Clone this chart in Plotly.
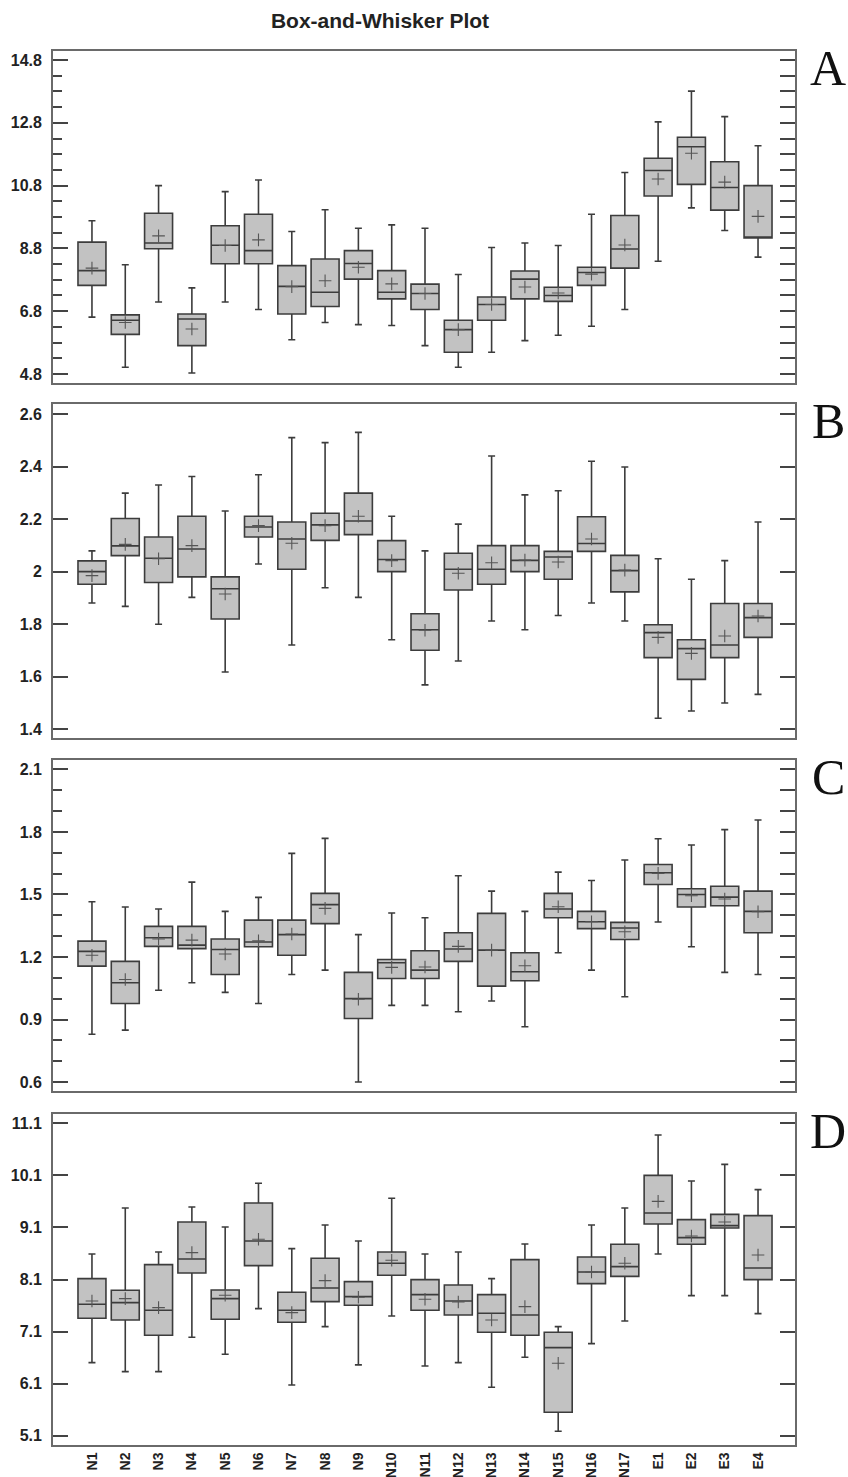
import plotly.graph_objects as go

categories = [f"N{i}" for i in range(1, 18)] + ["E1", "E2", "E3", "E4"]

# Panel A
a_upper = [9.68, 8.28, 10.80, 7.54, 10.61, 10.98, 9.34, 10.03, 9.44, 9.55, 9.44, 7.97, 8.83, 8.97, 8.89, 9.89, 11.22, 12.83, 13.81, 13.00, 12.07]
a_q3 = [9.00, 6.68, 9.92, 6.71, 9.52, 9.89, 8.25, 8.46, 8.73, 8.09, 7.66, 6.51, 7.25, 8.08, 7.56, 8.20, 9.85, 11.67, 12.34, 11.56, 10.80]
a_median = [8.09, 6.51, 8.97, 6.55, 8.90, 8.73, 7.59, 7.40, 8.32, 7.40, 7.36, 6.21, 7.01, 7.82, 7.30, 8.03, 8.78, 11.28, 12.04, 10.74, 9.16]
a_q1 = [7.62, 6.06, 8.79, 5.70, 8.31, 8.31, 6.71, 6.95, 7.82, 7.19, 6.85, 5.49, 6.51, 7.19, 7.11, 7.62, 8.17, 10.47, 10.84, 10.02, 9.13]
a_lower = [6.61, 5.01, 7.09, 4.83, 7.09, 6.85, 5.89, 6.44, 6.37, 6.34, 5.70, 5.01, 5.49, 5.86, 6.03, 6.32, 6.85, 8.39, 10.09, 9.37, 8.52]
a_mean = [8.17, 6.44, 9.20, 6.23, 8.89, 9.07, 7.58, 7.77, 8.20, 7.67, 7.36, 6.21, 7.01, 7.57, 7.38, 7.98, 8.91, 11.01, 11.83, 10.91, 9.82]

# Panel B
b_upper = [2.079, 2.299, 2.330, 2.362, 2.231, 2.369, 2.510, 2.491, 2.530, 2.211, 2.079, 2.181, 2.440, 2.292, 2.308, 2.420, 2.398, 2.049, 1.971, 2.042, 2.189]
b_q3 = [2.041, 2.202, 2.132, 2.211, 1.980, 2.211, 2.189, 2.222, 2.299, 2.118, 1.840, 2.070, 2.099, 2.099, 2.077, 2.209, 2.062, 1.798, 1.741, 1.879, 1.879]
b_median = [2.000, 2.098, 2.051, 2.086, 1.935, 2.170, 2.124, 2.178, 2.193, 2.046, 1.779, 2.009, 2.009, 2.043, 2.056, 2.107, 2.004, 1.768, 1.707, 1.721, 1.825]
b_q1 = [1.952, 2.061, 1.959, 1.980, 1.820, 2.132, 2.009, 2.119, 2.141, 2.000, 1.701, 1.930, 1.952, 2.000, 1.971, 2.077, 1.923, 1.673, 1.590, 1.673, 1.750]
b_lower = [1.881, 1.868, 1.800, 1.902, 1.618, 2.029, 1.721, 1.939, 1.902, 1.741, 1.569, 1.660, 1.812, 1.779, 1.833, 1.881, 1.812, 1.442, 1.470, 1.500, 1.533]
b_mean = [1.985, 2.104, 2.049, 2.099, 1.915, 2.175, 2.108, 2.175, 2.211, 2.042, 1.777, 1.994, 2.034, 2.044, 2.037, 2.124, 2.006, 1.750, 1.689, 1.755, 1.831]

# Panel C
c_upper = [1.465, 1.440, 1.430, 1.559, 1.419, 1.486, 1.697, 1.769, 1.307, 1.411, 1.388, 1.590, 1.516, 1.419, 1.607, 1.567, 1.665, 1.767, 1.737, 1.811, 1.857]
c_q3 = [1.276, 1.179, 1.347, 1.347, 1.286, 1.377, 1.377, 1.505, 1.126, 1.188, 1.230, 1.316, 1.409, 1.220, 1.505, 1.419, 1.366, 1.644, 1.527, 1.539, 1.516]
c_median = [1.227, 1.076, 1.292, 1.257, 1.236, 1.272, 1.307, 1.451, 1.000, 1.172, 1.137, 1.238, 1.233, 1.129, 1.430, 1.369, 1.339, 1.604, 1.500, 1.487, 1.419]
c_q1 = [1.156, 0.977, 1.251, 1.240, 1.116, 1.249, 1.208, 1.360, 0.905, 1.097, 1.097, 1.179, 1.060, 1.086, 1.388, 1.336, 1.284, 1.548, 1.440, 1.446, 1.316]
c_lower = [0.829, 0.849, 1.040, 1.076, 1.030, 0.977, 1.116, 1.137, 0.600, 0.968, 0.968, 0.937, 0.989, 0.865, 1.220, 1.137, 1.009, 1.368, 1.249, 1.126, 1.116]
c_mean = [1.208, 1.092, 1.286, 1.281, 1.214, 1.278, 1.310, 1.433, 0.997, 1.150, 1.152, 1.251, 1.233, 1.158, 1.441, 1.369, 1.321, 1.601, 1.494, 1.478, 1.417]

# Panel D
d_upper = [8.590, 9.474, 8.629, 9.493, 9.109, 9.948, 8.693, 9.147, 8.840, 9.660, 8.590, 8.629, 8.117, 8.782, 7.195, 9.147, 9.474, 10.876, 9.992, 10.313, 9.826]
d_q3 = [8.117, 7.893, 8.386, 9.205, 7.899, 9.570, 7.854, 8.507, 8.059, 8.629, 8.097, 7.995, 7.809, 8.482, 7.086, 8.533, 8.776, 10.100, 9.250, 9.352, 9.327]
d_median = [7.624, 7.656, 7.508, 8.494, 7.733, 8.840, 7.508, 7.937, 7.771, 8.411, 7.809, 7.688, 7.451, 7.419, 6.791, 8.245, 8.347, 9.378, 8.904, 9.135, 8.322]
d_q1 = [7.355, 7.323, 7.028, 8.225, 7.336, 8.366, 7.278, 7.675, 7.604, 8.181, 7.508, 7.419, 7.086, 7.028, 5.549, 8.021, 8.161, 9.167, 8.776, 9.090, 8.097]
d_lower = [6.503, 6.330, 6.330, 6.990, 6.663, 7.540, 6.074, 7.195, 6.459, 7.400, 6.439, 6.503, 6.030, 6.606, 5.184, 6.868, 7.304, 8.590, 7.790, 7.790, 7.444]
d_mean = [7.688, 7.733, 7.560, 8.616, 7.797, 8.872, 7.464, 8.078, 7.758, 8.469, 7.720, 7.669, 7.323, 7.579, 6.491, 8.245, 8.411, 9.602, 8.936, 9.205, 8.571]

panel_labels = ["A", "B", "C", "D"]
title_text = "Box-and-Whisker Plot"

panels = [
    dict(upper=a_upper, q3=a_q3, median=a_median, q1=a_q1, lower=a_lower, mean=a_mean,
         yrange=[4.51, 15.09], tick0=4.8, dtick=2.0, minor=0.5, fmt=".1f"),
    dict(upper=b_upper, q3=b_q3, median=b_median, q1=b_q1, lower=b_lower, mean=b_mean,
         yrange=[1.367, 2.638], tick0=1.4, dtick=0.2, minor=None, fmt=None),
    dict(upper=c_upper, q3=c_q3, median=c_median, q1=c_q1, lower=c_lower, mean=c_mean,
         yrange=[0.557, 2.145], tick0=0.6, dtick=0.3, minor=0.1, fmt=".1f"),
    dict(upper=d_upper, q3=d_q3, median=d_median, q1=d_q1, lower=d_lower, mean=d_mean,
         yrange=[4.92, 11.28], tick0=5.1, dtick=1.0, minor=None, fmt=".1f"),
]

W, H = 848, 1477
ML, MR, MT, MB = 53, 53, 51, 32
plot_h = H - MT - MB
px_panels = [(51, 383), (404, 738), (760, 1091), (1114, 1445)]

def to_paper(ypx):
    return (H - MB - ypx) / plot_h

fig = go.Figure()
line_col = "#3c3c3c"
fill_col = "#c2c2c2"
frame_col = "#6a6a6a"
tick_col = "#444444"
tick_font = dict(family="Liberation Sans, Arial, sans-serif", size=16, color="#222222", weight="bold")
xtick_font = dict(family="Liberation Sans, Arial, sans-serif", size=14, color="#222222", weight="bold")

for i, p in enumerate(panels):
    n = "" if i == 0 else str(i + 1)
    xa, ya = "x" + n, "y" + n
    ya_r = "y" + str(i + 5)
    fig.add_trace(go.Box(
        x=categories, q1=p["q1"], median=p["median"], q3=p["q3"],
        lowerfence=p["lower"], upperfence=p["upper"],
        xaxis=xa, yaxis=ya, width=0.84, whiskerwidth=0.25,
        fillcolor=fill_col, line=dict(color=line_col, width=1.6),
        boxpoints=False, showlegend=False, hoverinfo="skip",
    ))
    fig.add_trace(go.Scatter(
        x=categories, y=p["mean"], mode="markers", xaxis=xa, yaxis=ya,
        marker=dict(symbol="cross-thin", size=9, color="#555555",
                    line=dict(color="#555555", width=1.1)),
        showlegend=False, hoverinfo="skip",
    ))
    # invisible copy on the right-hand axis so that it renders its ticks
    fig.add_trace(go.Scatter(
        x=categories, y=p["mean"], mode="markers", xaxis=xa, yaxis=ya_r,
        marker=dict(size=1, opacity=0), showlegend=False, hoverinfo="skip",
    ))
    top, bot = px_panels[i]
    dom = [to_paper(bot), to_paper(top)]
    yax = dict(
        domain=dom, range=p["yrange"], automargin=False,
        tickmode="linear", tick0=p["tick0"], dtick=p["dtick"],
        ticks="inside", ticklen=15, tickwidth=1.5, tickcolor=tick_col,
        showline=True, linecolor=frame_col, linewidth=1.8, mirror=False,
        showgrid=False, zeroline=False, tickfont=tick_font, ticklabelstandoff=6,
        anchor=xa,
    )
    if p["fmt"]:
        yax["tickformat"] = p["fmt"]
    if p["minor"]:
        yax["minor"] = dict(ticks="inside", ticklen=9, tickwidth=1.5, tickcolor=tick_col,
                            dtick=p["minor"], tick0=p["tick0"], showgrid=False)
    yax_r = dict(
        domain=dom, range=p["yrange"], automargin=False, overlaying=ya, side="right",
        anchor=xa, tickmode="linear", tick0=p["tick0"],
        dtick=p["minor"] if p["minor"] else p["dtick"],
        ticks="inside", ticklen=15, tickwidth=1.5, tickcolor=tick_col,
        showticklabels=False, showline=True, linecolor=frame_col, linewidth=1.8,
        showgrid=False, zeroline=False,
    )
    xax = dict(
        domain=[0, 1], range=[-1.17, 21.11], type="category", automargin=False,
        categoryorder="array", categoryarray=categories,
        showline=True, linecolor=frame_col, linewidth=1.8, mirror=True,
        ticks="", showgrid=False, zeroline=False, anchor=ya,
        showticklabels=(i == 3), tickangle=-90, tickfont=xtick_font, ticklabelstandoff=0,
    )
    fig.update_layout(**{"xaxis" + n: xax, "yaxis" + n: yax, "yaxis" + str(i + 5): yax_r})
    fig.add_annotation(
        text=panel_labels[i], xref="paper", yref="paper",
        x=(828 - ML) / (W - ML - MR), y=to_paper(top + 17),
        xanchor="center", yanchor="middle", showarrow=False,
        font=dict(family="Liberation Serif, Times New Roman, serif", size=50, color="#111111"),
    )

fig.update_layout(
    width=W, height=H,
    margin=dict(l=ML, r=MR, t=MT, b=MB, autoexpand=False),
    paper_bgcolor="white", plot_bgcolor="white",
    title=dict(text=title_text, x=380 / W, xanchor="center", y=1 - 21 / H, yanchor="middle",
               automargin=False,
               font=dict(family="Liberation Sans, Arial, sans-serif", size=21, color="#222222", weight="bold")),
)

fig.write_html("out.html", config={"displayModeBar": False},
               post_script="document.body.style.margin='0';document.body.style.overflow='hidden';")
